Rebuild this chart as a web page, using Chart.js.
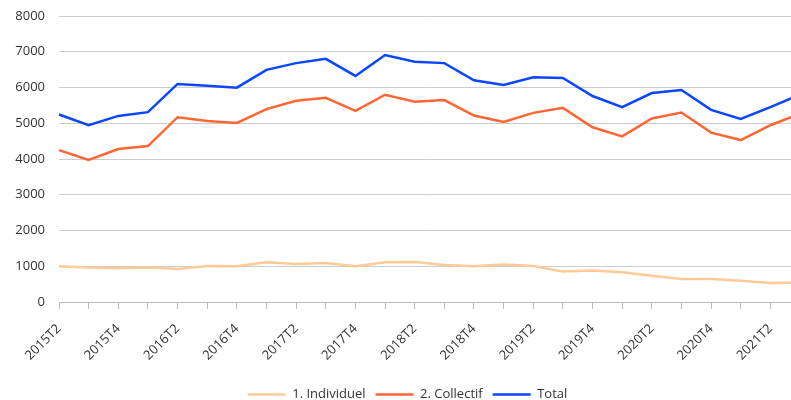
<!DOCTYPE html>
<html>
<head>
<meta charset="utf-8">
<script src="https://cdn.jsdelivr.net/npm/chart.js@4/dist/chart.umd.min.js"></script>
<style>
  html, body { margin: 0; padding: 0; background: #fff; overflow: hidden; }
  #wrap { position: relative; width: 800px; height: 400px; }
</style>
</head>
<body>
<div id="wrap"><canvas id="timelineChart"></canvas></div>
<script>
const quarters = ['2015T2','2015T3','2015T4','2016T1','2016T2','2016T3','2016T4','2017T1','2017T2','2017T3',
                  '2017T4','2018T1','2018T2','2018T3','2018T4','2019T1','2019T2','2019T3','2019T4','2020T1',
                  '2020T2','2020T3','2020T4','2021T1','2021T2','2021T3'];
const individuel = [1000, 963, 944, 963, 925, 1009, 1000, 1113, 1066, 1094,
                    1000, 1113, 1122, 1037, 1000, 1047, 1009, 850, 878, 831,
                    737, 643, 643, 596, 531, 545];
const collectif = [4249, 3977, 4277, 4361, 5169, 5066, 5009, 5394, 5628, 5713,
                   5347, 5798, 5600, 5648, 5217, 5037, 5291, 5431, 4887, 4634,
                   5132, 5301, 4738, 4530, 4944, 5270];
const total = [5245, 4944, 5206, 5310, 6099, 6051, 5995, 6493, 6682, 6803,
               6324, 6907, 6718, 6682, 6203, 6070, 6287, 6268, 5761, 5451,
               5845, 5930, 5375, 5121, 5451, 5800];
const yTicks = [0, 1000, 2000, 3000, 4000, 5000, 6000, 7000, 8000];

const font = { family: "'Open Sans', sans-serif", size: 13 };

function serie(label, values, color) {
    return {
        label: label,
        data: values,
        borderColor: color,
        backgroundColor: color,
        borderWidth: 2.5,
        pointRadius: 0,
        fill: false,
        tension: 0
    };
}

const data = {
    labels: quarters,
    datasets: [
        serie('1. Individuel', individuel, '#ffca96'),
        serie('2. Collectif', collectif, '#ff6633'),
        serie('Total', total, '#0a46ff')
    ]
};

const config = {
    type: 'line',
    data: data,
    options: {
        responsive: true,
        maintainAspectRatio: false,
        animation: false,
        layout: { padding: { left: 15, top: 16, right: 0, bottom: -11 } },
        plugins: {
            tooltip: { enabled: false },
            legend: {
                display: true,
                position: 'bottom',
                labels: {
                    usePointStyle: true,
                    pointStyle: 'line',
                    pointStyleWidth: 38,
                    color: '#333',
                    font: font,
                    padding: 10
                }
            }
        },
        scales: {
            x: {
                offset: false,
                border: { display: true, color: '#bbb', width: 1 },
                grid: { display: true, drawOnChartArea: false, drawTicks: true, tickLength: 7, color: '#bbb' },
                afterFit: function(s) { s.paddingLeft = 0; s.paddingRight = 0; s.height = 76; },
                ticks: {
                    autoSkip: false,
                    maxRotation: 45,
                    minRotation: 45,
                    color: '#333',
                    font: font,
                    padding: 12,
                    callback: function(val, i) { return i % 2 === 0 ? quarters[i] : ''; }
                }
            },
            y: {
                min: 0,
                max: 8000,
                border: { display: false },
                grid: { color: '#ccc', drawTicks: false },
                afterBuildTicks: function(axis) { axis.ticks = yTicks.map(v => ({ value: v })); },
                afterFit: function(s) { s.paddingTop = 0; s.paddingBottom = 0; s.width = 44; },
                ticks: {
                    color: '#333',
                    font: font,
                    padding: 14,
                    callback: function(v) { return String(v); }
                }
            }
        }
    }
};

new Chart(document.getElementById('timelineChart').getContext('2d'), config);
</script>
</body>
</html>
